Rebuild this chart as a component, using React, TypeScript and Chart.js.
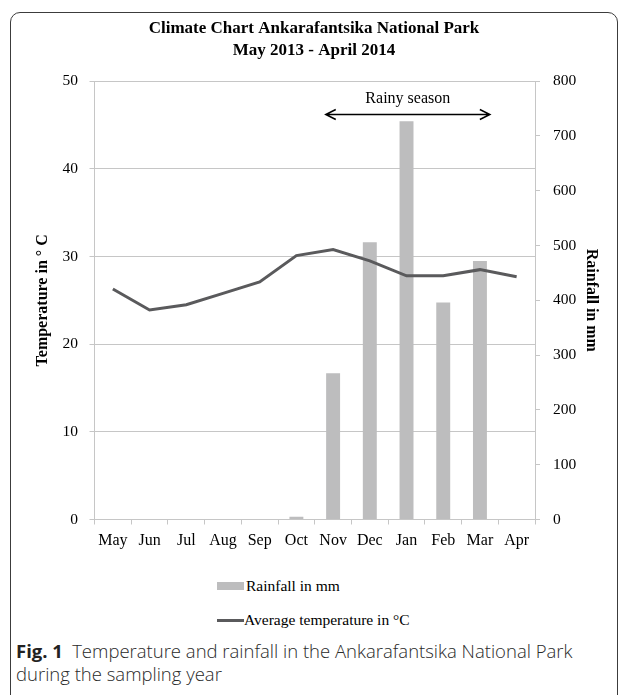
import React, { useEffect, useRef } from "react";
import { Chart, registerables } from "chart.js";

Chart.register(...registerables);

// ---- data ----
const months = ["May", "Jun", "Jul", "Aug", "Sep", "Oct", "Nov", "Dec", "Jan", "Feb", "Mar", "Apr"];
const rainfallMm = [0, 0, 0, 0, 0, 5, 267, 506, 727, 396, 472, 0];
const avgTemperature = [26.3, 23.9, 24.5, 25.8, 27.1, 30.1, 30.8, 29.5, 27.8, 27.8, 28.5, 27.7];
const tempAxis = { min: 0, max: 50, step: 10 };
const rainAxis = { min: 0, max: 800, step: 100 };
const titleLines = ["Climate Chart Ankarafantsika National Park", "May 2013 - April 2014"];
const leftAxisTitle = "Temperature in \u00b0 C";
const rightAxisTitle = "Rainfall in mm";
const rainLabel = "Rainfall in mm";
const tempLabel = "Average temperature in \u00b0C";
const rainyText = "Rainy season";
const rainyFrom = 5.8; // category index where arrow starts (Nov)
const rainyTo = 10.27; // category index where arrow ends (Mar)
const rainyLevel = 46.2; // temperature-axis level of the arrow
const captionBold = "Fig. 1";
const captionText = "Temperature and rainfall in the Ankarafantsika National Park during the sampling year";

const BAR = "#bdbdbe";
const LINE = "#5a5a5c";
const GRID = "#c6c6c6";
const SERIF = "'Liberation Serif', 'Times New Roman', serif";

const rainyPlugin = {
  id: "rainy",
  afterDatasetsDraw(chart: any) {
    const { ctx } = chart;
    const xs = chart.scales.x;
    const ys = chart.scales.y;
    const x1 = xs.getPixelForValue(rainyFrom);
    const x2 = xs.getPixelForValue(rainyTo);
    const y = ys.getPixelForValue(rainyLevel);
    ctx.save();
    ctx.strokeStyle = "#000";
    ctx.lineWidth = 1.5;
    ctx.beginPath();
    ctx.moveTo(x1, y);
    ctx.lineTo(x2, y);
    ctx.moveTo(x1 + 10, y - 5);
    ctx.lineTo(x1, y);
    ctx.lineTo(x1 + 10, y + 5);
    ctx.moveTo(x2 - 10, y - 5);
    ctx.lineTo(x2, y);
    ctx.lineTo(x2 - 10, y + 5);
    ctx.stroke();
    ctx.fillStyle = "#000";
    ctx.font = `16px ${SERIF}`;
    ctx.textAlign = "center";
    ctx.textBaseline = "middle";
    ctx.fillText(rainyText, (x1 + x2) / 2, y - 16);
    ctx.restore();
  },
};

export default function App() {
  const ref = useRef<HTMLCanvasElement | null>(null);

  useEffect(() => {
    if (!ref.current) return;
    const chart = new Chart(ref.current, {
      type: "bar",
      data: {
        labels: months,
        datasets: [
          {
            type: "line",
            label: tempLabel,
            data: avgTemperature,
            yAxisID: "y",
            borderColor: LINE,
            backgroundColor: LINE,
            borderWidth: 3,
            pointRadius: 0,
            tension: 0,
            order: 0,
          } as any,
          {
            type: "bar",
            label: rainLabel,
            data: rainfallMm,
            yAxisID: "y1",
            backgroundColor: BAR,
            borderWidth: 0,
            categoryPercentage: 1,
            barPercentage: 0.38,
            order: 1,
          },
        ],
      },
      options: {
        animation: false,
        responsive: false,
        maintainAspectRatio: false,
        layout: { padding: 0 },
        plugins: {
          legend: { display: false },
          tooltip: { enabled: false },
          title: {
            display: true,
            text: titleLines,
            color: "#000",
            font: { family: SERIF, size: 17, weight: "bold", lineHeight: 1.24 },
            padding: { top: 5.5, bottom: 20.5 },
          },
        },
        scales: {
          x: {
            offset: true,
            grid: {
              offset: true,
              drawOnChartArea: false,
              drawTicks: true,
              tickLength: 5,
              color: GRID,
            },
            border: { display: true, color: GRID },
            ticks: { color: "#000", font: { family: SERIF, size: 16 }, padding: 7, maxRotation: 0, autoSkip: false },
            afterFit(s: any) {
              s.height = 36.5;
            },
          },
          y: {
            position: "left",
            min: tempAxis.min,
            max: tempAxis.max,
            ticks: { stepSize: tempAxis.step, color: "#000", font: { family: SERIF, size: 15.5 }, padding: 11.5 },
            grid: { color: GRID, tickLength: 5 },
            border: { display: true, color: GRID },
            title: {
              display: true,
              text: leftAxisTitle,
              color: "#000",
              font: { family: SERIF, size: 16, weight: "bold" },
              padding: { top: 22, bottom: 0 },
            },
            afterFit(s: any) {
              s.width = 83.5;
            },
          },
          y1: {
            position: "right",
            min: rainAxis.min,
            max: rainAxis.max,
            ticks: { stepSize: rainAxis.step, color: "#000", font: { family: SERIF, size: 15.5 }, padding: 13 },
            grid: { drawOnChartArea: false, color: GRID, tickLength: 5 },
            border: { display: true, color: GRID },
            title: {
              display: true,
              text: rightAxisTitle,
              color: "#000",
              font: { family: SERIF, size: 16, weight: "bold" },
              padding: { top: 16.4, bottom: 0 },
            },
            afterFit(s: any) {
              s.width = 82;
            },
          },
        },
      },
      plugins: [rainyPlugin],
    });
    return () => chart.destroy();
  }, []);

  return (
    <div
      style={{
        position: "relative",
        margin: "4px 0 0 2px",
        width: 608,
        height: 700,
        border: "1px solid #3c3c3c",
        borderRadius: 10,
        boxSizing: "border-box",
        background: "#fff",
      }}
    >
      <canvas ref={ref} width={606} height={543} style={{ position: "absolute", left: 0, top: 0, width: 606, height: 543 }} />
      <div style={{ position: "absolute", left: 206, top: 564, fontFamily: SERIF, fontSize: 15.5, color: "#000", lineHeight: "18px" }}>
        <div style={{ display: "flex", alignItems: "center", height: 18 }}>
          <span style={{ display: "inline-block", width: 27, height: 8, background: BAR, marginRight: 2 }} />
          <span>{rainLabel}</span>
        </div>
        <div style={{ display: "flex", alignItems: "center", height: 18, marginTop: 16 }}>
          <span style={{ display: "inline-block", width: 27, height: 3, background: LINE, marginRight: 0 }} />
          <span>{tempLabel}</span>
        </div>
      </div>
      <div
        style={{
          position: "absolute",
          left: 5,
          top: 626,
          width: 585,
          fontFamily: "'Open Sans', 'Noto Sans', sans-serif",
          fontSize: 18.5,
          lineHeight: "23px",
          color: "#2a2a2a",
          fontWeight: 300,
        }}
      >
        <b style={{ fontWeight: 700, color: "#222" }}>{captionBold}</b>
        {"\u2002"}
        {captionText}
      </div>
    </div>
  );
}
